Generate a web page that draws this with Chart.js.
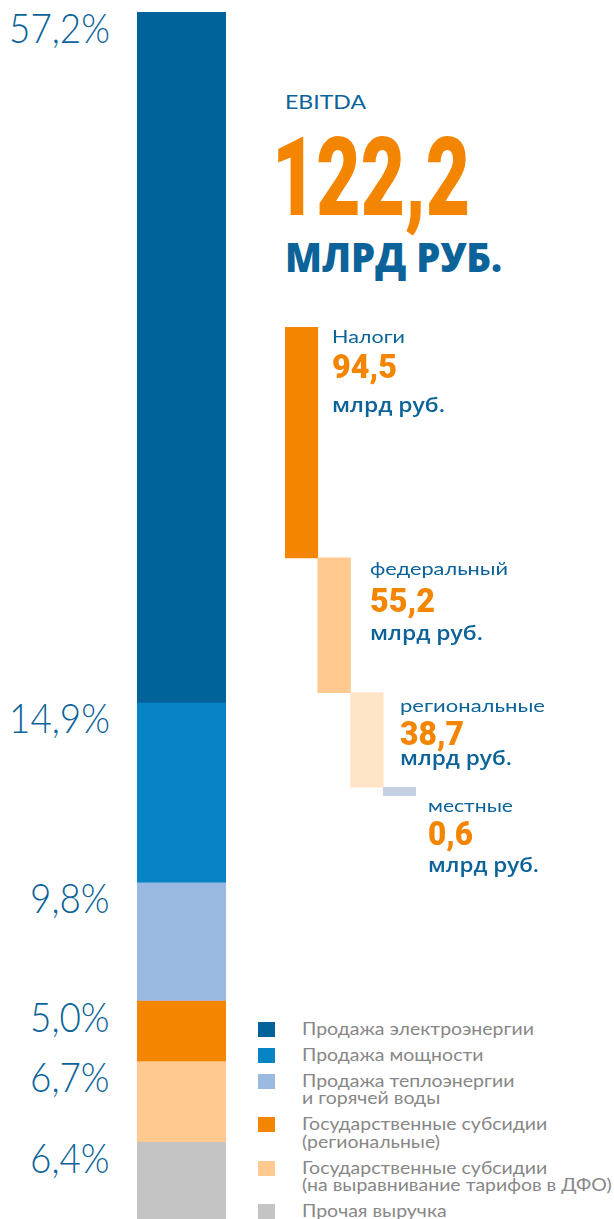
<!DOCTYPE html>
<html><head><meta charset="utf-8">
<script src="https://cdn.jsdelivr.net/npm/chart.js@4"></script>
<style>
html,body{margin:0;padding:0;background:#fff;width:614px;height:1219px;overflow:hidden;position:relative}
.t{position:absolute;white-space:pre;transform-origin:0 0;line-height:1}
canvas{position:absolute}
.sq{position:absolute;width:17px;height:15px}
</style></head><body>
<canvas id="c1" width="89" height="1207" style="left:137px;top:12px"></canvas>
<canvas id="c2" width="131" height="469" style="left:285px;top:327px"></canvas>
<script>
// ---- data ----
const categories = [
  "Продажа электроэнергии",
  "Продажа мощности",
  "Продажа теплоэнергии\nи горячей воды",
  "Государственные субсидии\n(региональные)",
  "Государственные субсидии\n(на выравнивание тарифов в ДФО)",
  "Прочая выручка"
];
const shares = [57.2, 14.9, 9.8, 5.0, 6.7, 6.4];
const shareColors = ["#02629a", "#0784c3", "#9ab9e1", "#f38500", "#ffc98f", "#c4c4c4"];
const ebitdaLabel = "EBITDA";
const ebitdaValue = 122.2;
const taxNames = ["Налоги", "федеральный", "региональные", "местные"];
const taxValues = [94.5, 55.2, 38.7, 0.6];
const taxColors = ["#f38500", "#ffc98f", "#ffe5c8", "#c6d0e4"];
const unitBig = "МЛРД РУБ.";
const unitSmall = "млрд руб.";

const BLUE = "#0b6399", ORANGE = "#f38500", GRAY = "#878787";
const fmt = v => v.toFixed(1).replace('.', ',');

function place(txt, x, baseline, o) {
  const d = document.createElement('div');
  d.className = 't';
  d.style.font = `${o.weight || 400} ${o.size}px ${o.family}`;
  d.style.color = o.color;
  d.appendChild(document.createTextNode(txt));
  const m = document.createElement('span');
  m.style.cssText = 'display:inline-block;width:0;height:0;vertical-align:baseline';
  d.appendChild(m);
  document.body.appendChild(d);
  const b = m.offsetTop;
  const w = d.getBoundingClientRect().width;
  const k = o.width ? o.width / w : (o.scale || 1);
  d.style.transform = `scaleX(${k})`;
  d.style.top = (baseline - b) + 'px';
  d.style.left = (o.align === 'right' ? x - w * k : x) + 'px';
  return k;
}

// ---- stacked share bar ----
const c1 = new Chart(document.getElementById('c1'), {
  type: 'bar',
  data: {
    labels: [''],
    datasets: categories.map((c, i) => ({
      label: c, data: [shares[i]], backgroundColor: shareColors[i],
      borderWidth: 0, barPercentage: 1, categoryPercentage: 1
    }))
  },
  options: {
    responsive: false, animation: false, events: [],
    plugins: { legend: { display: false }, tooltip: { enabled: false } },
    layout: { padding: 0 },
    scales: {
      x: { stacked: true, display: false },
      y: { stacked: true, display: false, reverse: true, min: 0, max: 100 }
    }
  }
});

let kPct = null;
shares.forEach((v, i) => {
  const el = c1.getDatasetMeta(i).data[0];
  const top = Math.min(el.y, el.base) + 12;
  const o = { family: 'Lato', weight: 300, size: 42, color: BLUE, align: 'right' };
  if (kPct === null) { o.width = 101; kPct = place(fmt(v) + '%', 110, top + 31, o); }
  else { o.scale = kPct; place(fmt(v) + '%', 110, top + 31, o); }
});

// ---- taxes waterfall ----
const ranges = [];
let level = 0;
taxValues.forEach((v, i) => {
  if (i === 0) { ranges.push([0, v]); }
  else { ranges.push([level - v, level]); level -= v; }
});
const c2 = new Chart(document.getElementById('c2'), {
  type: 'bar',
  data: {
    labels: taxNames,
    datasets: [{
      data: ranges, backgroundColor: taxColors, borderWidth: 0,
      barPercentage: 1, categoryPercentage: 1, minBarLength: 9
    }]
  },
  options: {
    responsive: false, animation: false, events: [],
    plugins: { legend: { display: false }, tooltip: { enabled: false } },
    layout: { padding: 0 },
    scales: {
      x: { display: false },
      y: { display: false, min: -97.5, max: 94.5 }
    }
  }
});

// ---- headline ----
place(ebitdaLabel, 285, 108.5, { family: 'Lato', weight: 400, size: 19, color: BLUE, width: 81 });
place(fmt(ebitdaValue), 272, 215, { family: 'Roboto', weight: 900, size: 110, color: ORANGE, width: 198 });
place(unitBig, 285, 272, { family: '"Open Sans"', weight: 800, size: 41, color: BLUE, width: 217 });

// ---- tax labels ----
const taxLabelPos = [
  { x: 332, name: 343, num: 378, unit: 412, wn: 73, wv: 65, wu: 113 },
  { x: 370, name: 575, num: 612, unit: 640, wn: 138, wv: 65, wu: 113 },
  { x: 400, name: 712, num: 745, unit: 765, wn: 145, wv: 64, wu: 112 },
  { x: 428, name: 812, num: 845, unit: 872, wn: 85, wv: 45, wu: 111 }
];
taxNames.forEach((n, i) => {
  const p = taxLabelPos[i];
  place(n, p.x, p.name, { family: 'Lato', weight: 400, size: 18, color: BLUE, width: p.wn });
  place(fmt(taxValues[i]), p.x, p.num, { family: 'Roboto', weight: 900, size: 33, color: ORANGE, width: p.wv });
  place(unitSmall, p.x, p.unit, { family: '"Open Sans"', weight: 600, size: 19, color: BLUE, width: p.wu });
});

// ---- legend ----
let base = 1034.5;
let kLeg = null;
categories.forEach((c, i) => {
  const lines = c.split('\n');
  const sq = document.createElement('div');
  sq.className = 'sq';
  sq.style.background = shareColors[i];
  sq.style.left = '258px';
  sq.style.top = (base - 13) + 'px';
  document.body.appendChild(sq);
  lines.forEach((ln, j) => {
    const o = { family: 'Lato', weight: 400, size: 17, color: GRAY };
    if (kLeg === null) { o.width = 232; kLeg = place(ln, 302, base + j * 17.5, o); }
    else { o.scale = kLeg; place(ln, 302, base + j * 17.5, o); }
  });
  base += 26 + 17.5 * (lines.length - 1);
});
</script>
</body></html>
